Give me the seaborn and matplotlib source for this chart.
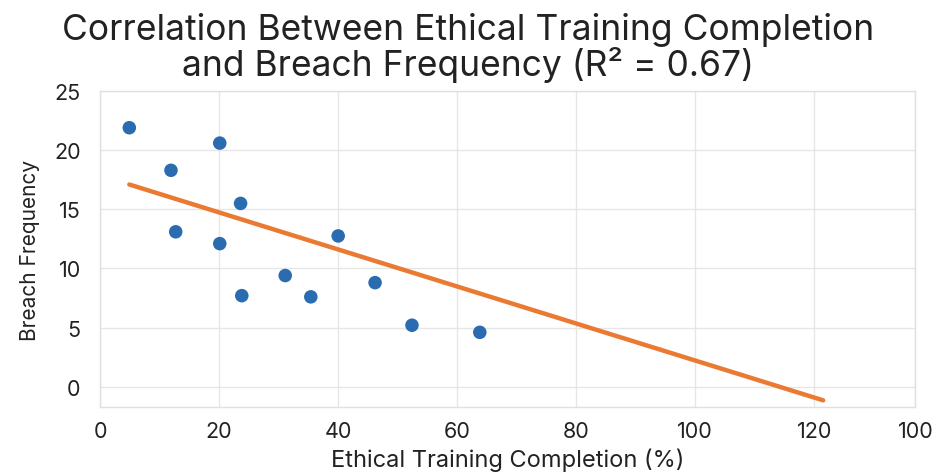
import matplotlib
matplotlib.use("Agg")
import matplotlib.pyplot as plt
import seaborn as sns
import pandas as pd

# points
training_pct = [4.9, 11.9, 20.1, 12.7, 23.6, 20.1, 23.8, 31.1, 40.0, 35.4, 46.2, 52.4, 63.8]
breaches     = [21.9, 18.3, 20.6, 13.1, 15.5, 12.1, 7.7, 9.4, 12.75, 7.6, 8.8, 5.2, 4.6]

# fitted trend line as drawn (endpoints)
fit_x = [4.9, 121.5]
fit_y = [17.1, -1.15]

x_ticks = [0, 20, 40, 60, 80, 100, 120, 137]
x_tick_labels = ["0", "20", "40", "60", "80", "100", "120", "100"]
y_ticks = [0, 5, 10, 15, 20, 25]

BLUE = "#2b6cb0"
ORANGE = "#ea7a32"

sns.set_theme(style="whitegrid")
plt.rcParams["font.family"] = ["Inter", "DejaVu Sans"]

df = pd.DataFrame({"x": training_pct, "y": breaches})
fit = pd.DataFrame({"x": fit_x, "y": fit_y})

fig = plt.figure(figsize=(9.36, 4.77), dpi=100)
ax = fig.add_axes([0.107, 0.145, 0.871, 0.662])

sns.lineplot(data=fit, x="x", y="y", color=ORANGE, lw=3.2, ax=ax, zorder=2)
sns.scatterplot(data=df, x="x", y="y", color=BLUE, s=95, edgecolor="none", ax=ax, zorder=3)

ax.set_xlim(0, 137)
ax.set_ylim(-1.7, 25)
ax.set_xticks(x_ticks)
ax.set_xticklabels(x_tick_labels)
ax.set_yticks(y_ticks)

ax.grid(True, color="#e6e6e6", lw=1)
for s in ax.spines.values():
    s.set_color("#e0e0e0")
    s.set_linewidth(1)

ax.tick_params(axis="both", labelsize=15.5, colors="#222222", length=0)
ax.tick_params(axis="x", pad=10)
ax.tick_params(axis="y", pad=14)

ax.set_xlabel("Ethical Training Completion (%)", fontsize=17, color="#222222", labelpad=5)
ax.set_ylabel("Breach Frequency", fontsize=15, color="#222222", labelpad=10)

fig.text(0.5, 0.937, "Correlation Between Ethical Training Completion",
         ha="center", va="center", fontsize=25.5, color="#222222")
fig.text(0.5, 0.864, "and Breach Frequency (R\u00b2 = 0.67)",
         ha="center", va="center", fontsize=25.5, color="#222222")

plt.savefig("out.png", dpi=100)
